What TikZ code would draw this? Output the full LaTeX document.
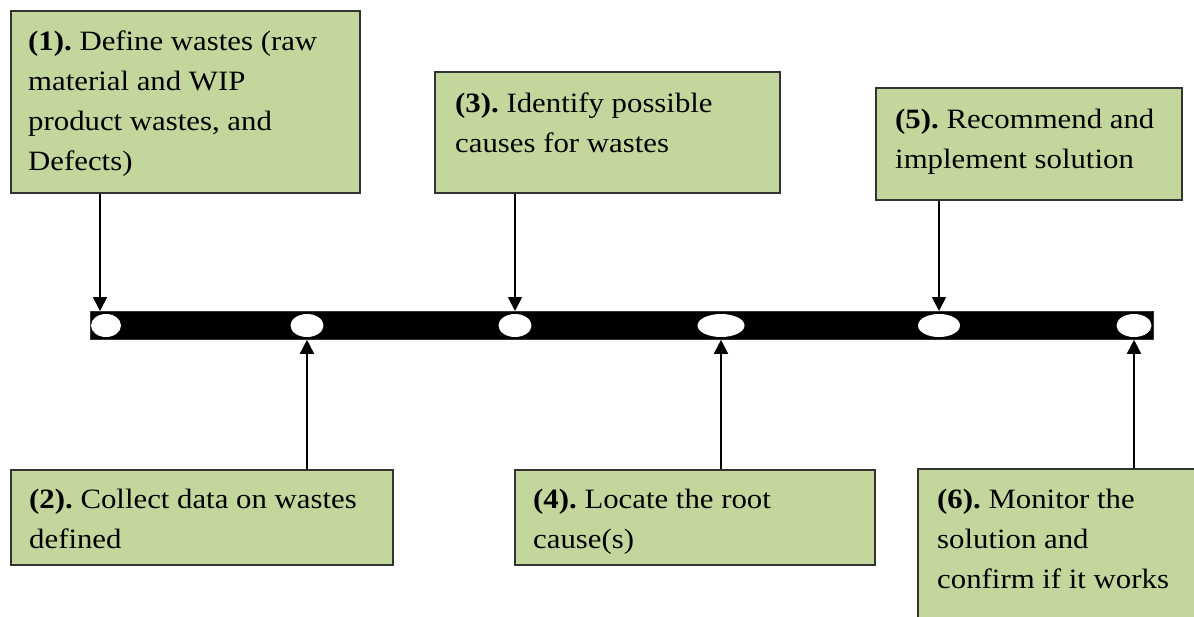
\documentclass[tikz,border=0pt]{standalone}
\usepackage{fontspec}
\setmainfont{Liberation Serif}[FakeStretch=1.1]
\usetikzlibrary{arrows.meta,shapes.geometric}
\definecolor{boxgreen}{HTML}{C3D69B}
\definecolor{boxedge}{HTML}{333333}
\frenchspacing
\begin{document}
\begin{tikzpicture}[x=1pt,y=-1pt,
  stepbox/.style={draw=boxedge, line width=1.5pt, fill=boxgreen, anchor=north west, inner sep=0pt},
  steptext/.style={anchor=north west, align=left, inner sep=0pt, font=\fontsize{28}{40}\selectfont},
  hole/.style={ellipse, fill=white, inner sep=0pt, minimum height=23pt},
  link/.style={line width=1.7pt, -{Triangle[length=14pt,width=14pt]}}]
\useasboundingbox (0,0) rectangle (1194,616);

% timeline bar with its six markers
\node[fill=black, draw=boxedge, line width=0.8pt, anchor=north west, inner sep=0pt,
      minimum width=1063pt, minimum height=28pt] (bar) at (90,311) {};
\node[hole, minimum width=30pt] (e1) at (106,325.5) {};
\node[hole, minimum width=33pt] (e2) at (307,325.5) {};
\node[hole, minimum width=33pt] (e3) at (515,325.5) {};
\node[hole, minimum width=47pt] (e4) at (721,325.5) {};
\node[hole, minimum width=42pt] (e5) at (939,325.5) {};
\node[hole, minimum width=35pt] (e6) at (1134,325.5) {};

% step boxes above the bar
\node[stepbox, minimum width=349pt, minimum height=182pt] (b1) at (10,10) {};
\node[stepbox, minimum width=345pt, minimum height=121pt] (b3) at (434,71) {};
\node[stepbox, minimum width=306pt, minimum height=112pt] (b5) at (875,87) {};
% step boxes below the bar
\node[stepbox, minimum width=382pt, minimum height=95pt] (b2) at (10,469) {};
\node[stepbox, minimum width=360pt, minimum height=95pt] (b4) at (514,469) {};
\node[stepbox, minimum width=277pt, minimum height=170pt] (b6) at (917,468) {};

% step texts
\node[steptext] (t1) at (28,31) {\textbf{(1).} Define wastes (raw\\material and WIP\\product wastes, and\\Defects)};
\node[steptext] (t3) at (455,93) {\textbf{(3).} Identify possible\\causes for wastes};
\node[steptext] (t5) at (895,109) {\textbf{(5).} Recommend and\\implement solution};
\node[steptext] (t2) at (29,489) {\textbf{(2).} Collect data on wastes\\defined};
\node[steptext] (t4) at (533,489) {\textbf{(4).} Locate the root\\cause(s)};
\node[steptext] (t6) at (937,489) {\textbf{(6).} Monitor the\\solution and\\confirm if it works};

% connectors
\coordinate (p1) at (100,311);
\draw[link] (b1.south -| p1) -- (p1);
\draw[link] (b3.south -| e3) -- (e3 |- bar.north);
\draw[link] (b5.south -| e5) -- (e5 |- bar.north);
\draw[link] (b2.north -| e2) -- (e2 |- bar.south);
\draw[link] (b4.north -| e4) -- (e4 |- bar.south);
\draw[link] (b6.north -| e6) -- (e6 |- bar.south);
\end{tikzpicture}
\end{document}
